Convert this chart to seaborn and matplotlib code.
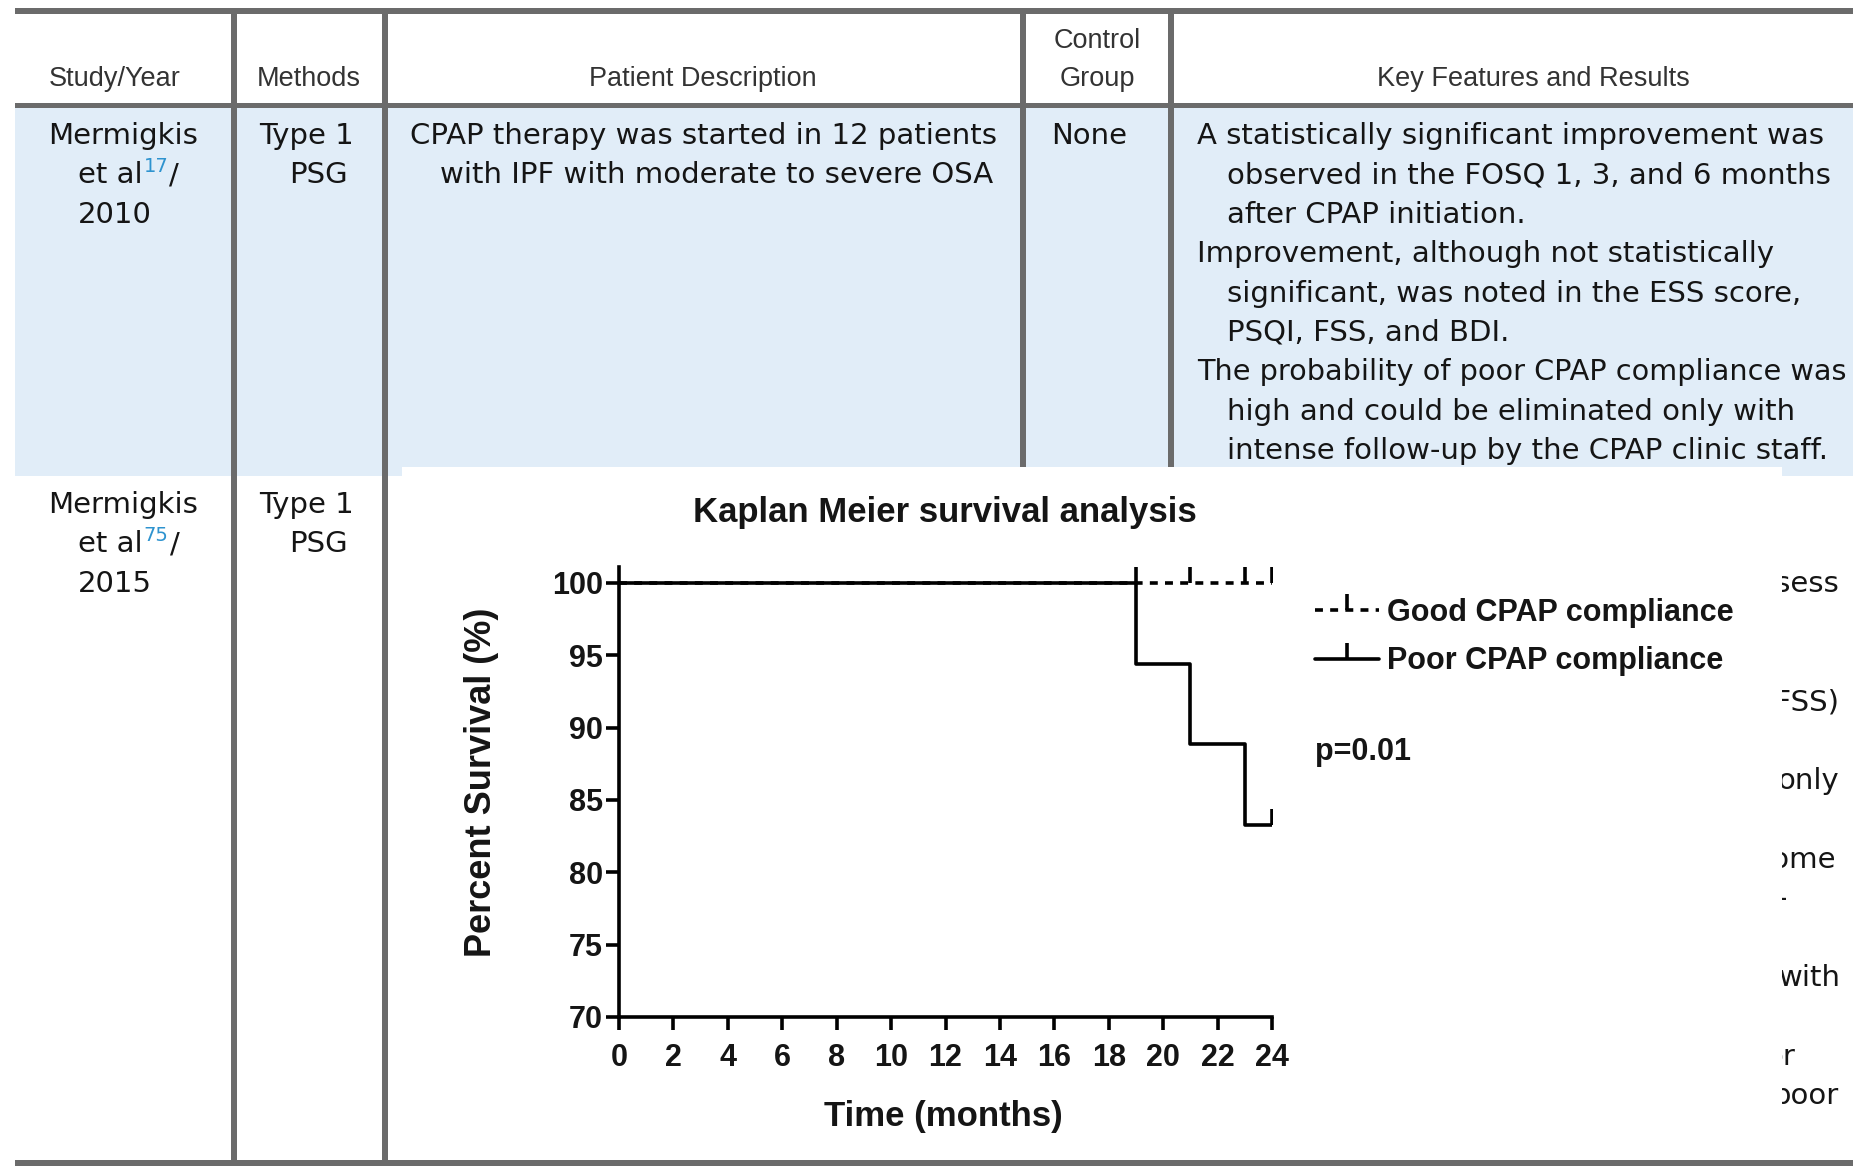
import numpy as np
import pandas as pd
import matplotlib
matplotlib.use("Agg")
import matplotlib.pyplot as plt
from matplotlib.patches import Rectangle
from matplotlib.lines import Line2D
import seaborn as sns

# ---------------- table content ----------------
header_labels = [["Study/Year"], ["Methods"], ["Patient Description"],
                 ["Control", "Group"], ["Key Features and Results"]]

row1_study = ["Mermigkis", "et al", "2010"]
row1_ref = "17"
row1_methods = ["Type 1", "PSG"]
row1_patient = ["CPAP therapy was started in 12 patients",
                "with IPF with moderate to severe OSA"]
row1_control = ["None"]
row1_key = ["A statistically significant improvement was",
            "observed in the FOSQ 1, 3, and 6 months",
            "after CPAP initiation.",
            "Improvement, although not statistically",
            "significant, was noted in the ESS score,",
            "PSQI, FSS, and BDI.",
            "The probability of poor CPAP compliance was",
            "high and could be eliminated only with",
            "intense follow-up by the CPAP clinic staff."]
row1_key_indent = [0, 1, 1, 0, 1, 1, 0, 1, 1]

row2_study = ["Mermigkis", "et al", "2015"]
row2_ref = "75"
row2_methods = ["Type 1", "PSG"]
# line number within the row -> trailing words of the key-features column
row2_key_lines = [3, 6, 8, 10, 11, 13, 15, 16]
row2_key_tails = ["assess", "(FSS)", "only", "some", "-", "with", "or", "poor"]

# ---------------- survival data ----------------
chart_title = "Kaplan Meier survival analysis"
series_names = ["Good CPAP compliance", "Poor CPAP compliance"]
good_months = [0, 24]
good_survival = [100.0, 100.0]
good_censored = [19, 21, 23, 24]
poor_months = [0, 19, 21, 23, 24]
poor_survival = [100.0, 94.4, 88.9, 83.3, 83.3]
poor_censored = [24]
x_ticks = list(range(0, 25, 2))
y_ticks = [70, 75, 80, 85, 90, 95, 100]
p_value_label = "p=0.01"


def step_value(times, surv, t):
    idx = np.searchsorted(times, t, side="right") - 1
    return np.asarray(surv)[idx]


W, H, DPI = 1853, 1169, 100
sns.set_theme(style="ticks")
plt.rcParams["font.family"] = ["DejaVu Sans"]

RULE = "#6b6b6b"
BLUE = "#E1EDF8"
LINK = "#2E93CF"
INK = "#151515"
HEAD = "#333333"

fig = plt.figure(figsize=(W / DPI, H / DPI), dpi=DPI)
fig.patch.set_facecolor("white")

tab = fig.add_axes([0, 0, 1, 1])
tab.set_xlim(0, W)
tab.set_ylim(H, 0)
tab.axis("off")

# shading of the first body row
tab.add_patch(Rectangle((15, 107), W - 15, 369, fc=BLUE, ec="none", zorder=0))
# horizontal rules
for y0, h in [(8, 6), (103, 4.5), (1160, 6)]:
    tab.add_patch(Rectangle((15, y0), W - 15, h, fc=RULE, ec="none", zorder=2))
# column rules
for xc in [233.5, 384.5, 1023, 1170.5]:
    tab.add_patch(Rectangle((xc - 3, 14), 6, 1146, fc=RULE, ec="none", zorder=2))

# header
hdr_x = [114.5, 308.5, 703, 1097, 1533]
for lines, x in zip(header_labels, hdr_x):
    n = len(lines)
    for i, s in enumerate(lines):
        tab.text(x, 86 - (n - 1 - i) * 38, s, ha="center", va="baseline",
                 family=["Liberation Sans", "DejaVu Sans"], size=19.5,
                 color=HEAD, zorder=3)

BODY = 21
LS = 39.4
RIGHT_LIMIT = 1846
renderer = fig.canvas.get_renderer()


def body_text(x, y, s, **kw):
    ha = kw.pop("ha", "left")
    t = tab.text(x, y, s, ha=ha, va="baseline", size=BODY, color=INK,
                 zorder=3, **kw)
    if ha == "left":
        wdt = t.get_window_extent(renderer=renderer).width
        if x + wdt > RIGHT_LIMIT:
            t.set_size(BODY * (RIGHT_LIMIT - x) / wdt)
    return t


def study_cell(lines, ref, y0):
    body_text(48, y0, lines[0])
    t = body_text(78, y0 + LS, lines[1])
    bb = t.get_window_extent(renderer=renderer)
    x = 78 + bb.width + 1
    sup = tab.text(x, y0 + LS - 11, ref, ha="left", va="baseline", size=14,
                   color=LINK, zorder=3)
    x += sup.get_window_extent(renderer=renderer).width + 1
    body_text(x, y0 + LS, "/")
    body_text(78, y0 + 2 * LS, lines[2])


def indented(lines, x_first, x_next, y0, flags=None):
    for i, s in enumerate(lines):
        ind = (i > 0) if flags is None else flags[i]
        body_text(x_next if ind else x_first, y0 + i * LS, s)


R1 = 144
study_cell(row1_study, row1_ref, R1)
indented(row1_methods, 259, 289, R1)
indented(row1_patient, 410, 440, R1)
indented(row1_control, 1051, 1051, R1)
indented(row1_key, 1197, 1227, R1, row1_key_indent)

R2 = 513
study_cell(row2_study, row2_ref, R2)
indented(row2_methods, 259, 289, R2)
tail_right = [1839, 1839, 1839, 1836, 1787, 1841, 1795, 1839]
for ln, s, xr in zip(row2_key_lines, row2_key_tails, tail_right):
    body_text(xr, R2 + (ln - 1) * LS, s, ha="right")

# white panel holding the survival figure
tab.add_patch(Rectangle((402, 467), 1380, 693, fc="white", ec="none", zorder=5))

# ---------------- survival chart ----------------
CH = ["Liberation Sans", "DejaVu Sans"]
LW = 2.6
ax = fig.add_axes([619 / W, 1 - 1017 / H, (1272 - 619) / W, (1017 - 567) / H])
ax.set_zorder(6)
ax.set_facecolor("none")

good_df = pd.DataFrame({"month": good_months, "survival": good_survival})
poor_df = pd.DataFrame({"month": poor_months, "survival": poor_survival})
sns.lineplot(data=good_df, x="month", y="survival", ax=ax, color="black",
             lw=LW, linestyle=(0, (2.2, 2.0)), drawstyle="steps-post",
             estimator=None, legend=False, zorder=3)
sns.lineplot(data=poor_df, x="month", y="survival", ax=ax, color="black",
             lw=LW, drawstyle="steps-post", estimator=None, legend=False,
             zorder=4)

ax.plot(good_censored,
        [step_value(good_months, good_survival, t) for t in good_censored],
        ls="none", marker=2, ms=11.5, mew=LW, color="black", zorder=5)
ax.plot(poor_censored,
        [step_value(poor_months, poor_survival, t) for t in poor_censored],
        ls="none", marker=2, ms=11.5, mew=LW, color="black", zorder=5)

ax.set_xlim(0, 24)
ax.set_ylim(70, 101.1)
ax.set_xticks(x_ticks)
ax.set_yticks(y_ticks)
for side in ["top", "right"]:
    ax.spines[side].set_visible(False)
for side in ["left", "bottom"]:
    ax.spines[side].set_linewidth(LW)
    ax.spines[side].set_color("black")
ax.tick_params(axis="both", length=9.5, width=LW, color="black",
               labelsize=22, labelcolor=INK)
ax.tick_params(axis="x", pad=9)
ax.tick_params(axis="y", pad=2)
for lab in ax.get_xticklabels() + ax.get_yticklabels():
    lab.set_fontweight("bold")
    lab.set_family(CH)

ax.set_xlabel("Time (months)", family=CH, weight="bold", size=25, color=INK)
ax.set_ylabel("Percent Survival (%)", family=CH, weight="bold", size=26, color=INK)
ax.xaxis.set_label_coords(0.496, -0.221)
ax.xaxis.label.set_va("center")
ax.yaxis.set_label_coords(-0.211, 0.522)
ax.yaxis.label.set_va("center")
ax.set_title(chart_title, family=CH, weight="bold", size=25, color=INK,
             x=0.499, y=1.102, va="center")

handles = [
    Line2D([], [], color="black", lw=LW, linestyle=(0, (2.2, 2.0)),
           marker=2, ms=11.5, mew=LW),
    Line2D([], [], color="black", lw=LW, marker=2, ms=11.5, mew=LW),
]
ax.legend(handles, series_names, loc="upper left",
          bbox_to_anchor=(1315 / W, 1 - 598 / H),
          bbox_transform=fig.transFigure, frameon=False, borderpad=0,
          borderaxespad=0, handlelength=2.1, handletextpad=0.25,
          labelspacing=0.6, numpoints=1,
          prop={"family": CH, "weight": "bold", "size": 22})
for t in ax.get_legend().get_texts():
    t.set_color(INK)

ax.text((1315 - 619) / 653, (1017 - 752) / 450, p_value_label,
        transform=ax.transAxes, ha="left", va="center", family=CH,
        weight="bold", size=22, color=INK)

fig.savefig("out.png", dpi=DPI, facecolor="white")
